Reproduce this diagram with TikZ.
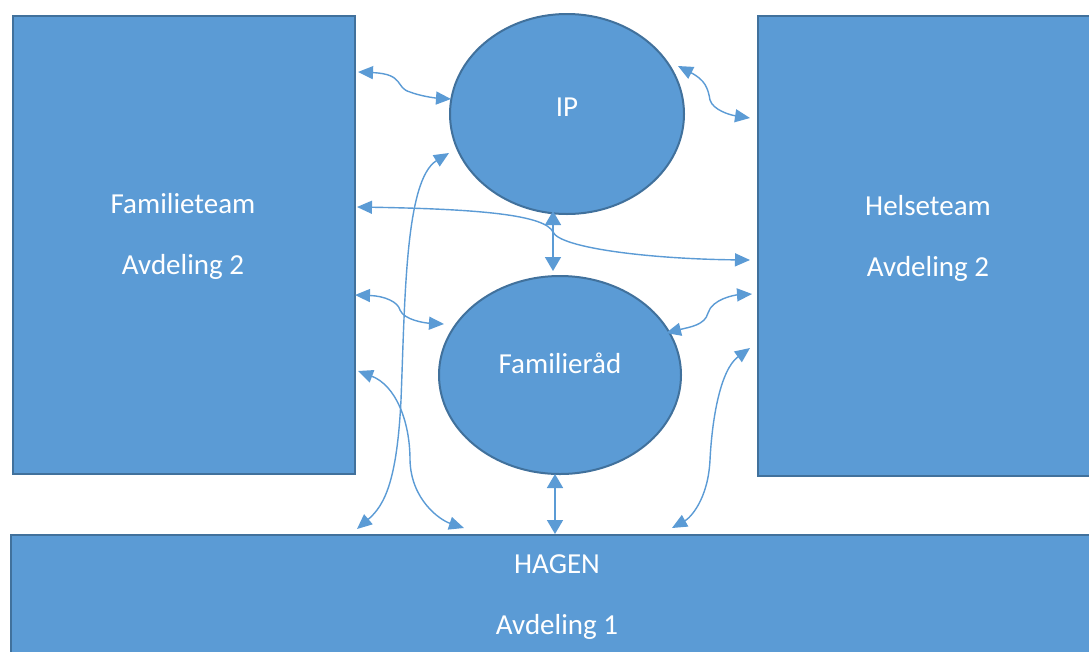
\documentclass[tikz,border=0pt]{standalone}
\usepackage{fontspec}
\setmainfont{Carlito}
\usetikzlibrary{arrows.meta,shapes.geometric}
\definecolor{fillblue}{HTML}{5B9BD5}
\definecolor{edgeblue}{HTML}{41719C}
\begin{document}
\begin{tikzpicture}[x=1pt,y=-1pt,
  boxshape/.style={draw=edgeblue,fill=fillblue,line width=2pt,inner sep=0pt},
  lbl/.style={text=white,font=\fontsize{29}{61}\selectfont,align=center,inner sep=0pt},
  conn/.style={draw=fillblue,line width=1.4pt,{Triangle[length=15pt,width=13pt]}-{Triangle[length=15pt,width=13pt]}},
  vconn/.style={draw=fillblue,line width=1.6pt,{Triangle[length=14pt,width=16pt]}-{Triangle[length=14pt,width=16pt]}}]
\useasboundingbox (0,0) rectangle (1089,651);
\fill[white] (0,0) rectangle (1089,651);
% shapes
\node[boxshape,rectangle,minimum width=342pt,minimum height=458pt] (fam) at (184,245) {};
\node[boxshape,rectangle,minimum width=340pt,minimum height=460pt] (hel) at (928,246) {};
\node[boxshape,rectangle,minimum width=1090pt,minimum height=130pt] (hag) at (556,600) {};
\node[boxshape,ellipse,minimum width=234pt,minimum height=200pt] (ip) at (567,114) {};
\node[boxshape,ellipse,minimum width=242pt,minimum height=198pt] (fr) at (560,375) {};
% texts
\node[lbl] (famt) at (183,236) {Familieteam\\Avdeling 2};
\node[lbl] (helt) at (928,238) {Helseteam\\Avdeling 2};
\node[lbl] (ipt) at (567,107) {IP};
\node[lbl] (frt) at (560,363) {Familieråd};
\node[lbl] (hagt) at (557,597) {HAGEN\\Avdeling 1};
% connector end points
\coordinate (a1) at (358,72);  \coordinate (b1) at (451,99);
\coordinate (a2) at (678,66);  \coordinate (b2) at (750,118);
\coordinate (a3) at (357,207); \coordinate (b3) at (750,260);
\coordinate (a4) at (553,211); \coordinate (b4) at (553,271);
\coordinate (a5) at (355,295); \coordinate (b5) at (444,324);
\coordinate (a6) at (666,333); \coordinate (b6) at (752,294);
\coordinate (a7) at (449,153); \coordinate (b7) at (357,529);
\coordinate (a8) at (358,371); \coordinate (b8) at (464,528);
\coordinate (a9) at (555,474); \coordinate (b9) at (555,534);
\coordinate (a10) at (750,348); \coordinate (b10) at (672,528);
% connectors
\draw[conn] (a1) .. controls (405,74) and (395,88) .. (410,92) .. controls (420,96) and (435,98) .. (b1);
\draw[conn] (a2) .. controls (705,80) and (708,88) .. (710,100) .. controls (713,110) and (730,115) .. (b2);
\draw[conn] (a3) .. controls (480,209) and (545,215) .. (553,232) .. controls (560,248) and (650,259) .. (b3);
\draw[vconn] (a4) -- (b4);
\draw[conn] (a5) .. controls (385,296) and (398,302) .. (400,310) .. controls (404,320) and (425,323) .. (b5);
\draw[conn] (a6) .. controls (690,327) and (705,325) .. (708,313) .. controls (712,299) and (735,295) .. (b6);
\draw[conn] (a7) .. controls (405,180) and (405,300) .. (401,400) .. controls (397,480) and (385,505) .. (b7);
\draw[conn] (a8) .. controls (395,385) and (410,420) .. (410,460) .. controls (411,500) and (440,520) .. (b8);
\draw[vconn] (a9) -- (b9);
\draw[conn] (a10) .. controls (720,370) and (712,420) .. (710,460) .. controls (708,500) and (690,518) .. (b10);
\end{tikzpicture}
\end{document}
